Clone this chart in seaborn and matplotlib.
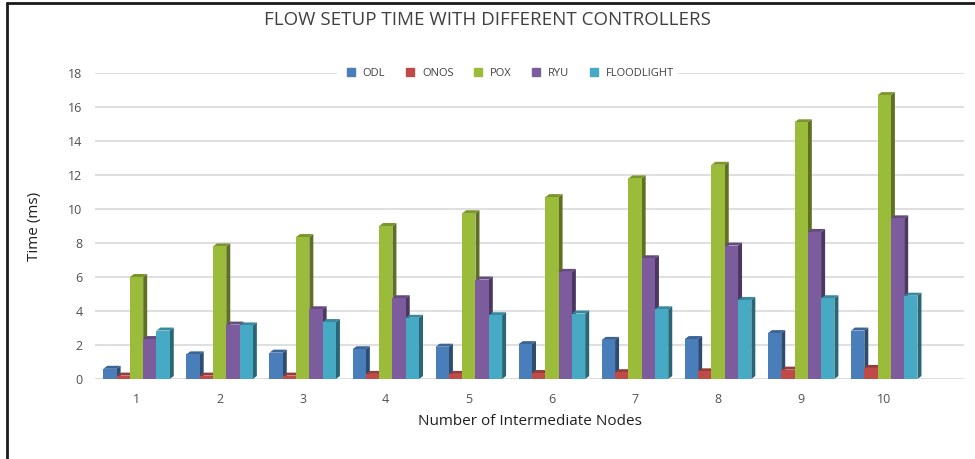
import numpy as np
import pandas as pd
import matplotlib
matplotlib.use("Agg")
import matplotlib.pyplot as plt
import matplotlib.colors as mcolors
from matplotlib.patches import Polygon
from matplotlib.lines import Line2D
import seaborn as sns

# ---------------- data ----------------
nodes = [1, 2, 3, 4, 5, 6, 7, 8, 9, 10]
controllers = ["ODL", "ONOS", "POX", "RYU", "FLOODLIGHT"]
odl = [0.6, 1.45, 1.55, 1.75, 1.9, 2.05, 2.3, 2.35, 2.7, 2.85]
onos = [0.2, 0.2, 0.2, 0.3, 0.3, 0.35, 0.4, 0.45, 0.55, 0.65]
pox = [6.0, 7.8, 8.35, 9.0, 9.75, 10.7, 11.8, 12.6, 15.1, 16.7]
ryu = [2.35, 3.2, 4.1, 4.75, 5.85, 6.3, 7.1, 7.85, 8.65, 9.45]
floodlight = [2.85, 3.15, 3.35, 3.6, 3.75, 3.85, 4.1, 4.65, 4.75, 4.9]
y_ticks = [0, 2, 4, 6, 8, 10, 12, 14, 16, 18]

colors = ["#4A7EBB", "#BE4B48", "#9BBB3B", "#7D5C9E", "#46AAC5"]

series = [odl, onos, pox, ryu, floodlight]
df = pd.DataFrame({
    "nodes": [str(n) for s in series for n in nodes],
    "controller": [c for c, s in zip(controllers, series) for _ in s],
    "time": [v for s in series for v in s],
})

# ---------------- figure ----------------
sns.set_theme(style="white")
plt.rcParams["font.family"] = ["Open Sans", "DejaVu Sans"]
W, H = 975, 459
fig = plt.figure(figsize=(W / 100, H / 100), dpi=100)
ax_left, ax_right, ax_bottom, ax_top = 95, 964, 379, 73
ax = fig.add_axes([ax_left / W, 1 - ax_bottom / H,
                   (ax_right - ax_left) / W, (ax_bottom - ax_top) / H])

sns.barplot(data=df, x="nodes", y="time", hue="controller",
            hue_order=controllers, palette=colors, saturation=1,
            width=0.8, linewidth=0, ax=ax, legend=False, zorder=3)

ax.set_ylim(0, 18)
ax.set_xlim(-0.5, 9.96)
ax.set_yticks(y_ticks)
ax.set_yticklabels([str(t) for t in y_ticks])

# pseudo-3D depth faces derived from each bar
px_x = (ax.get_xlim()[1] - ax.get_xlim()[0]) / (ax_right - ax_left)
px_y = 18 / (ax_bottom - ax_top)
dx, dy = 4 * px_x, 3 * px_y
for p in list(ax.patches):
    x0, w, h = p.get_x(), p.get_width(), p.get_height()
    fc = np.array(mcolors.to_rgb(p.get_facecolor()))
    side = fc * 0.6
    top = fc * 0.8
    ax.add_patch(Polygon([(x0 + w, 0), (x0 + w + dx, dy), (x0 + w + dx, h + dy), (x0 + w, h)],
                         closed=True, facecolor=side, edgecolor="none", zorder=2.5))
    ax.add_patch(Polygon([(x0, h), (x0 + dx, h + dy), (x0 + w + dx, h + dy), (x0 + w, h)],
                         closed=True, facecolor=top, edgecolor="none", zorder=2.5))

ax.yaxis.grid(True, color="#d9d9d9", linewidth=1.2, zorder=0)
ax.set_axisbelow(True)
for s in ax.spines.values():
    s.set_visible(False)
ax.tick_params(axis="both", length=0, colors="#505050", labelsize=9)
ax.tick_params(axis="x", pad=10)
ax.tick_params(axis="y", pad=9)

ax.set_xlabel("Number of Intermediate Nodes", fontsize=11, color="#202020", labelpad=6)
ax.set_ylabel("Time (ms)", fontsize=11, color="#202020", labelpad=19)

handles = [Line2D([0], [0], marker="s", linestyle="none", markersize=6,
                  markerfacecolor=c, markeredgecolor=c) for c in colors]
ax.legend(handles, controllers, loc="center", bbox_to_anchor=(0.474, 1.0),
          ncol=5, frameon=True, framealpha=1, edgecolor="none", facecolor="white",
          fontsize=8, handletextpad=0.1, columnspacing=1.2, borderpad=0.2,
          labelcolor="#404040")

fig.text(0.5, 1 - 20 / H, "FLOW SETUP TIME WITH DIFFERENT CONTROLLERS",
         ha="center", va="center", fontsize=13.5, color="#404040",
         family=["Open Sans", "DejaVu Sans"])

# outer frame (top and left edges)
fig.add_artist(Line2D([7 / W, 1], [1 - 3 / H, 1 - 3 / H], transform=fig.transFigure,
                      color="#1a1a1a", linewidth=2))
fig.add_artist(Line2D([7 / W, 7 / W], [0, 1 - 3 / H], transform=fig.transFigure,
                      color="#1a1a1a", linewidth=2))

fig.savefig("out.png", dpi=100)
